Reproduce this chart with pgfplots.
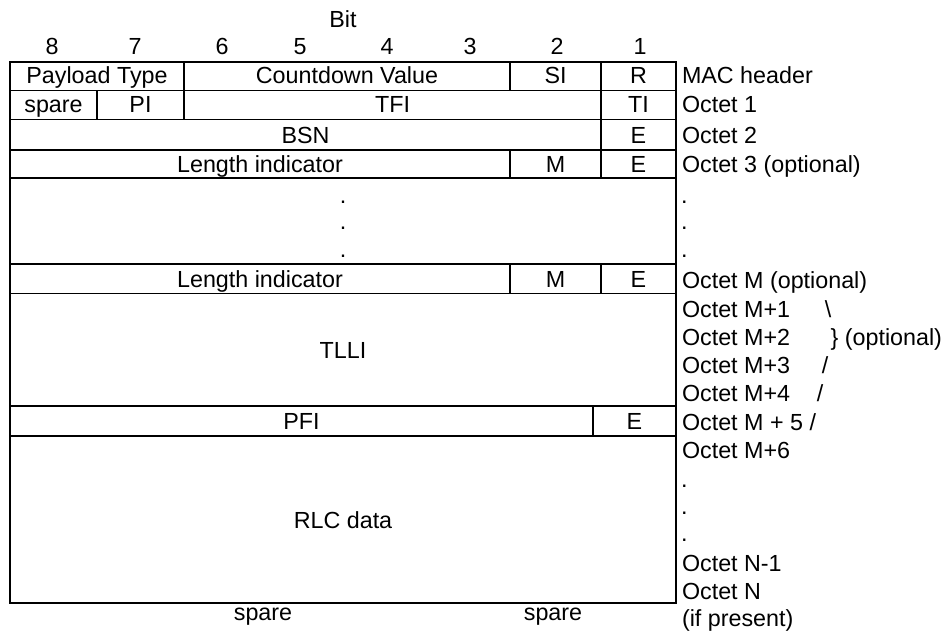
\documentclass[border=0pt]{standalone}
\usepackage{fontspec}
\setmainfont{Liberation Sans}
\usepackage{pgfplots}
\pgfplotsset{compat=1.18}
\tikzset{every node/.append style={font=\fontsize{23.3bp}{27bp}\selectfont, inner sep=0pt, outer sep=0pt}}
\pgfplotsset{rule/.style={black, solid, line width=1.8bp, mark=none, line cap=rect}}
\begin{document}
\begin{tikzpicture}
\begin{axis}[at={(0,0)}, anchor=south west, scale only axis,
  width=948bp, height=631bp, xmin=0, xmax=948, ymin=0, ymax=631,
  y dir=reverse, hide axis, clip=false]
% horizontal lines
\addplot[rule] coordinates {(10,61.7) (676,61.7)};
\addplot[rule] coordinates {(10,90.5) (676,90.5)};
\addplot[rule] coordinates {(10,119.5) (676,119.5)};
\addplot[rule] coordinates {(10,150) (676,150)};
\addplot[rule] coordinates {(10,178) (676,178)};
\addplot[rule] coordinates {(10,264) (676,264)};
\addplot[rule] coordinates {(10,293.5) (676,293.5)};
\addplot[rule] coordinates {(10,406) (676,406)};
\addplot[rule] coordinates {(10,436) (676,436)};
\addplot[rule] coordinates {(10,603) (676,603)};
% vertical lines
\addplot[rule] coordinates {(10,61.7) (10,603)};
\addplot[rule] coordinates {(676,61.7) (676,603)};
\addplot[rule] coordinates {(184,61.7) (184,119.5)};
\addplot[rule] coordinates {(97,90.5) (97,119.5)};
\addplot[rule] coordinates {(510,61.7) (510,90.5)};
\addplot[rule] coordinates {(510,150) (510,178)};
\addplot[rule] coordinates {(510,264) (510,293.5)};
\addplot[rule] coordinates {(601,61.7) (601,178)};
\addplot[rule] coordinates {(601,264) (601,293.5)};
\addplot[rule] coordinates {(593,406) (593,436)};
% header
\node[anchor=base] at (axis cs:343,28) {Bit};
\node[anchor=base] at (axis cs:52,55) {8};
\node[anchor=base] at (axis cs:135,55) {7};
\node[anchor=base] at (axis cs:222,55) {6};
\node[anchor=base] at (axis cs:300,55) {5};
\node[anchor=base] at (axis cs:387,55) {4};
\node[anchor=base] at (axis cs:470,55) {3};
\node[anchor=base] at (axis cs:557,55) {2};
\node[anchor=base] at (axis cs:640,55) {1};
% cells
\node[anchor=base] at (axis cs:97,84) {Payload Type};
\node[anchor=base] at (axis cs:347,84) {Countdown Value};
\node[anchor=base] at (axis cs:555.5,84) {SI};
\node[anchor=base] at (axis cs:638.5,84) {R};
\node[anchor=base] at (axis cs:53.5,113) {spare};
\node[anchor=base] at (axis cs:140.5,113) {PI};
\node[anchor=base] at (axis cs:392.5,113) {TFI};
\node[anchor=base] at (axis cs:638.5,113) {TI};
\node[anchor=base] at (axis cs:305.5,143) {BSN};
\node[anchor=base] at (axis cs:638.5,143) {E};
\node[anchor=base] at (axis cs:260,172) {Length indicator};
\node[anchor=base] at (axis cs:555.5,172) {M};
\node[anchor=base] at (axis cs:638.5,172) {E};
\node[anchor=base] at (axis cs:343,203) {.};
\node[anchor=base] at (axis cs:343,229.5) {.};
\node[anchor=base] at (axis cs:343,257.5) {.};
\node[anchor=base] at (axis cs:260,287) {Length indicator};
\node[anchor=base] at (axis cs:555.5,287) {M};
\node[anchor=base] at (axis cs:638.5,287) {E};
\node[anchor=base] at (axis cs:343,358) {TLLI};
\node[anchor=base] at (axis cs:301.5,429) {PFI};
\node[anchor=base] at (axis cs:634.5,429) {E};
\node[anchor=base] at (axis cs:343,528) {RLC data};
% right labels
\node[anchor=base west] at (axis cs:682,84) {MAC header};
\node[anchor=base west] at (axis cs:682,113) {Octet 1};
\node[anchor=base west] at (axis cs:682,143) {Octet 2};
\node[anchor=base west] at (axis cs:682,172) {Octet 3 (optional)};
\node[anchor=base west] at (axis cs:681,203) {.};
\node[anchor=base west] at (axis cs:681,229.5) {.};
\node[anchor=base west] at (axis cs:681,257.5) {.};
\node[anchor=base west] at (axis cs:682,288) {Octet M (optional)};
\node[anchor=base west] at (axis cs:682,317) {Octet M+1};
\node[anchor=base] at (axis cs:828,317) {\textbackslash};
\node[anchor=base west] at (axis cs:682,345) {Octet M+2};
\node[anchor=base east] at (axis cs:942,345) {\} (optional)};
\node[anchor=base west] at (axis cs:682,373) {Octet M+3};
\node[anchor=base] at (axis cs:825,373) {/};
\node[anchor=base west] at (axis cs:682,401) {Octet M+4};
\node[anchor=base] at (axis cs:820,401) {/};
\node[anchor=base west] at (axis cs:682,430) {Octet M + 5 /};
\node[anchor=base west] at (axis cs:682,458) {Octet M+6};
\node[anchor=base west] at (axis cs:681,487) {.};
\node[anchor=base west] at (axis cs:681,514) {.};
\node[anchor=base west] at (axis cs:681,541) {.};
\node[anchor=base west] at (axis cs:682,571) {Octet N-1};
\node[anchor=base west] at (axis cs:682,599) {Octet N};
\node[anchor=base west] at (axis cs:682,626) {(if present)};
% bottom
\node[anchor=base] at (axis cs:263,620) {spare};
\node[anchor=base] at (axis cs:553,620) {spare};
\end{axis}
\pgfresetboundingbox
\path (0,0) rectangle (948bp,631bp);
\end{tikzpicture}
\end{document}
